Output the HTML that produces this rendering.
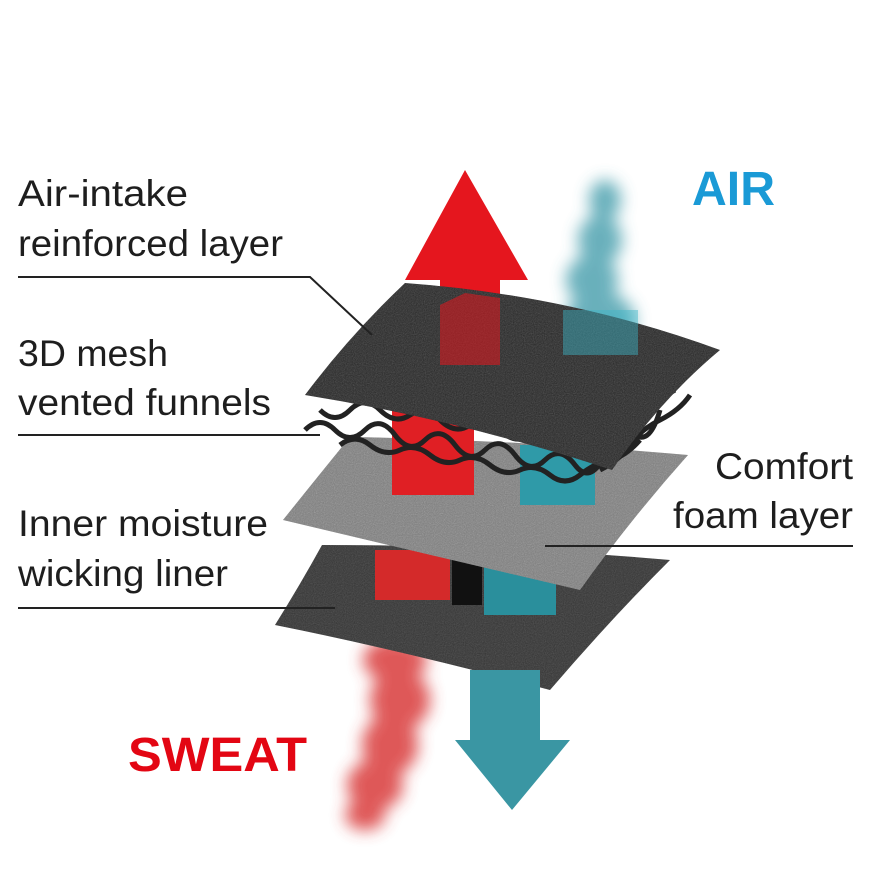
<!DOCTYPE html>
<html><head><meta charset="utf-8"><style>
html,body{margin:0;padding:0;background:#fff;}
svg{display:block;}
</style></head><body>
<svg width="871" height="889" viewBox="0 0 871 889" xmlns="http://www.w3.org/2000/svg">
<defs>
<filter id="blur" x="-50%" y="-50%" width="200%" height="200%"><feGaussianBlur stdDeviation="8"/></filter>
<filter id="noise"><feTurbulence type="fractalNoise" baseFrequency="0.9" numOctaves="2" result="n"/><feColorMatrix type="saturate" values="0"/><feComposite in2="SourceGraphic" operator="in"/></filter>
</defs>
<rect width="871" height="889" fill="#fff"/>
<!-- teal smoke -->
<g filter="url(#blur)" fill="#4fa3b0" opacity="0.85">
<ellipse cx="605" cy="200" rx="16" ry="20"/>
<ellipse cx="600" cy="240" rx="22" ry="25"/>
<ellipse cx="592" cy="280" rx="26" ry="25"/>
<ellipse cx="600" cy="320" rx="35" ry="28"/>
</g>
<!-- red smoke -->
<g filter="url(#blur)" fill="#d93a3a" opacity="0.85">
<ellipse cx="395" cy="660" rx="32" ry="22"/>
<ellipse cx="400" cy="700" rx="30" ry="30"/>
<ellipse cx="390" cy="745" rx="28" ry="30"/>
<ellipse cx="375" cy="785" rx="28" ry="25"/>
<ellipse cx="365" cy="815" rx="20" ry="15"/>
</g>
<!-- red arrow up -->
<polygon points="465,170 528,280 500,280 500,370 440,370 440,280 405,280" fill="#e5161e"/>
<!-- bottom liner -->
<path d="M322,545 Q500,545 670,560 Q610,620 550,690 Q400,650 275,625 Q300,585 322,545Z" fill="#333"/>
<path d="M322,545 Q500,545 670,560 Q610,620 550,690 Q400,650 275,625 Q300,585 322,545Z" fill="#666" filter="url(#noise)" opacity="0.25"/>
<rect x="375" y="550" width="75" height="50" fill="#d42a2a"/>
<rect x="452" y="560" width="30" height="45" fill="#111"/>
<rect x="484" y="565" width="72" height="50" fill="#2a8f9c"/>
<!-- foam -->
<path d="M350,437 Q520,440 688,455 Q630,520 580,590 Q430,555 283,520 Q315,480 350,437Z" fill="#7d7d7d"/>
<path d="M350,437 Q520,440 688,455 Q630,520 580,590 Q430,555 283,520 Q315,480 350,437Z" fill="#ddd" filter="url(#noise)" opacity="0.45"/>
<rect x="392" y="410" width="82" height="85" fill="#e01f24"/>
<rect x="520" y="445" width="75" height="60" fill="#2f9aa8"/>
<!-- mesh -->
<g fill="none" stroke="#222" stroke-width="5">
<path d="M305,430 q15,-15 30,0 t30,0 t30,5 t30,5 t30,5 t30,5 t30,5 t30,5 t30,5 t30,-10 t30,-20 t25,-25"/>
<path d="M320,410 q15,15 30,0 t30,0 t30,5 t30,5 t30,5 t30,5 t30,5 t30,5 t30,5 t30,-10 t30,-20 t25,-25"/>
<path d="M340,445 q15,-12 30,0 t30,5 t30,5 t30,5 t30,5 t30,5 t30,5 t30,0 t30,-15 t30,-20"/>
<path d="M600,470 q20,-10 30,-25 t30,-25 t30,-25"/>
</g>
<!-- top layer -->
<path d="M405,283 Q570,295 720,350 Q660,400 612,470 Q460,420 305,395 Q350,335 405,283Z" fill="#262626"/>
<path d="M405,283 Q570,295 720,350 Q660,400 612,470 Q460,420 305,395 Q350,335 405,283Z" fill="#777" filter="url(#noise)" opacity="0.3"/>
<path d="M465,293 L500,298 L500,365 L440,365 L440,305Z" fill="#e5161e" opacity="0.55"/>
<rect x="563" y="310" width="75" height="45" fill="#3bb6c8" opacity="0.45"/>
<!-- teal arrow down -->
<polygon points="470,670 540,670 540,740 570,740 512,810 455,740 470,740" fill="#3a96a3"/>
<!-- leader lines -->
<g stroke="#222" stroke-width="2" fill="none">
<polyline points="18,277 310,277 372,335"/>
<polyline points="18,435 320,435"/>
<polyline points="18,608 335,608"/>
<polyline points="545,546 853,546"/>
</g>
<g font-family="'Liberation Sans', sans-serif" font-size="37" fill="#1e1e1e" lengthAdjust="spacingAndGlyphs">
<text x="18" y="206" textLength="170" lengthAdjust="spacingAndGlyphs">Air-intake</text>
<text x="18" y="256" textLength="265" lengthAdjust="spacingAndGlyphs">reinforced layer</text>
<text x="18" y="366" textLength="150" lengthAdjust="spacingAndGlyphs">3D mesh</text>
<text x="18" y="415" textLength="253" lengthAdjust="spacingAndGlyphs">vented funnels</text>
<text x="18" y="536" textLength="250" lengthAdjust="spacingAndGlyphs">Inner moisture</text>
<text x="18" y="586" textLength="210" lengthAdjust="spacingAndGlyphs">wicking liner</text>
<text x="715" y="479" textLength="138" lengthAdjust="spacingAndGlyphs">Comfort</text>
<text x="673" y="528" textLength="180" lengthAdjust="spacingAndGlyphs">foam layer</text>
</g>
<text x="692" y="205" textLength="83" lengthAdjust="spacingAndGlyphs" font-family="'Liberation Sans', sans-serif" font-weight="bold" font-size="48" fill="#1a9ad6">AIR</text>
<text x="128" y="771" textLength="179" lengthAdjust="spacingAndGlyphs" font-family="'Liberation Sans', sans-serif" font-weight="bold" font-size="48" fill="#e30613">SWEAT</text>
</svg>
</body></html>
